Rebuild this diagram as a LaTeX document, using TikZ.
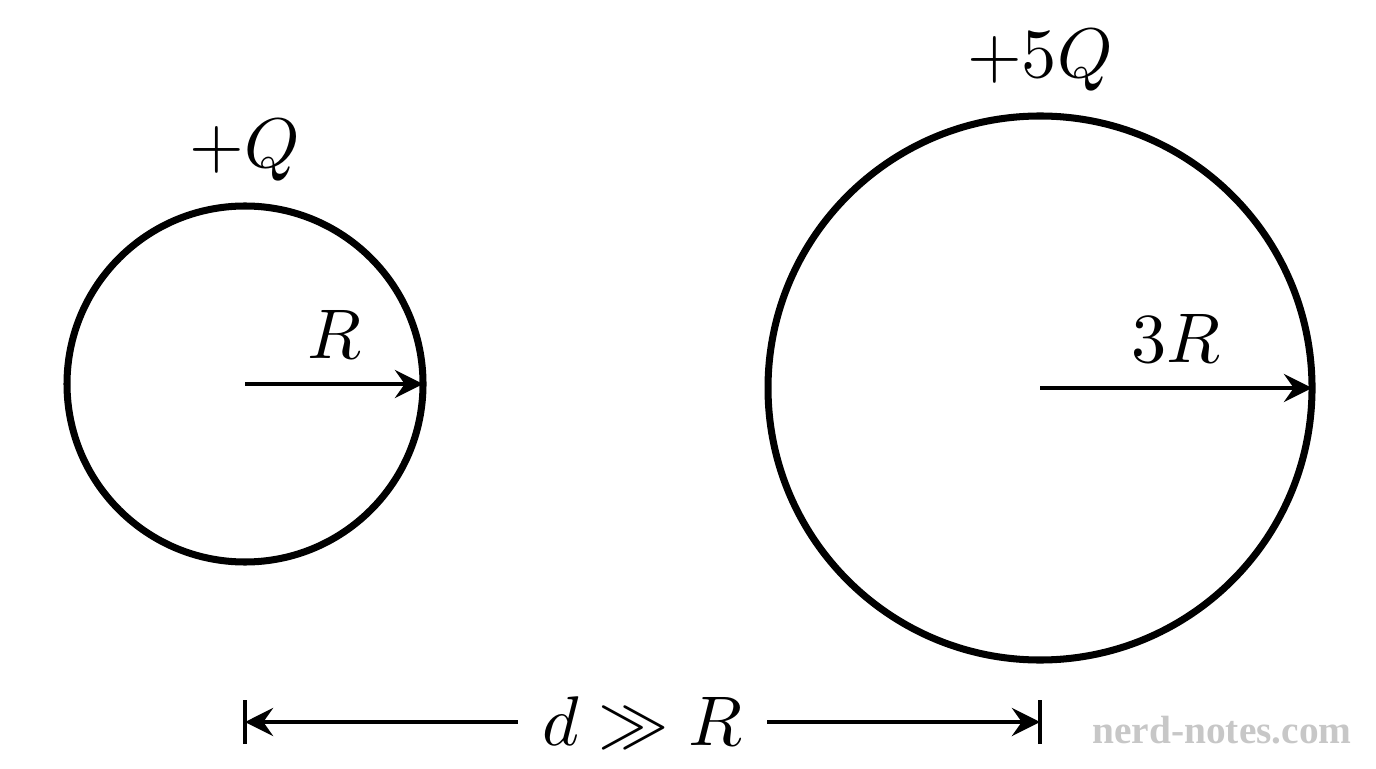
\documentclass[tikz,border=0pt]{standalone}
\usepackage{mathtools, amssymb, amsmath}
\usepackage{fontspec}
\newfontfamily\markfont{Liberation Serif}
\usetikzlibrary{positioning, arrows.meta, calc}

\begin{document}
\begin{tikzpicture}[
    shell/.style={draw, circle, line width=1pt, inner sep=0pt, outer sep=0pt},
    radius arrow/.style={-{Stealth[length=4pt, width=4pt, inset=1.4pt]}, line width=0.6pt}
  ]
    \useasboundingbox (0,0) rectangle (6.88,3.84);

    % Draw the two spheres
    \node[shell, minimum size=1.78cm] (small) at (1.225,1.92) {};
    \node[shell, minimum size=2.72cm] (big) at (5.2,1.9) {};
    \node[above=0pt of small] (qsmall) {$+Q$};
    \node[above=0pt of big] (qbig) {$+5Q$};

    % Draw radii
    \draw[radius arrow] (small.center) -- (small.east) node[midway, above] (rsmall) {$R$};
    \draw[radius arrow] (big.center) -- (big.east) node[midway, above] (rbig) {$3R$};

    % Draw distance between centres
    \coordinate (dl) at (1.225,0.23);
    \coordinate (dr) at (5.2,0.23);
    \node (dist) at ($(dl)!0.5!(dr)$) {$d \gg R$};
    \draw[radius arrow] (dist.west) -- (dl);
    \draw[radius arrow] (dist.east) -- (dr);
    \foreach \c in {dl, dr} {
      \draw[line width=0.6pt] ([yshift=-0.11cm]\c) -- ([yshift=0.11cm]\c);
    }

    % Watermark
    \node[text=black!22] (mark) at (6.11,0.19) {\markfont\bfseries\fontsize{5.6}{7}\selectfont nerd-notes.com};
\end{tikzpicture}
\end{document}
